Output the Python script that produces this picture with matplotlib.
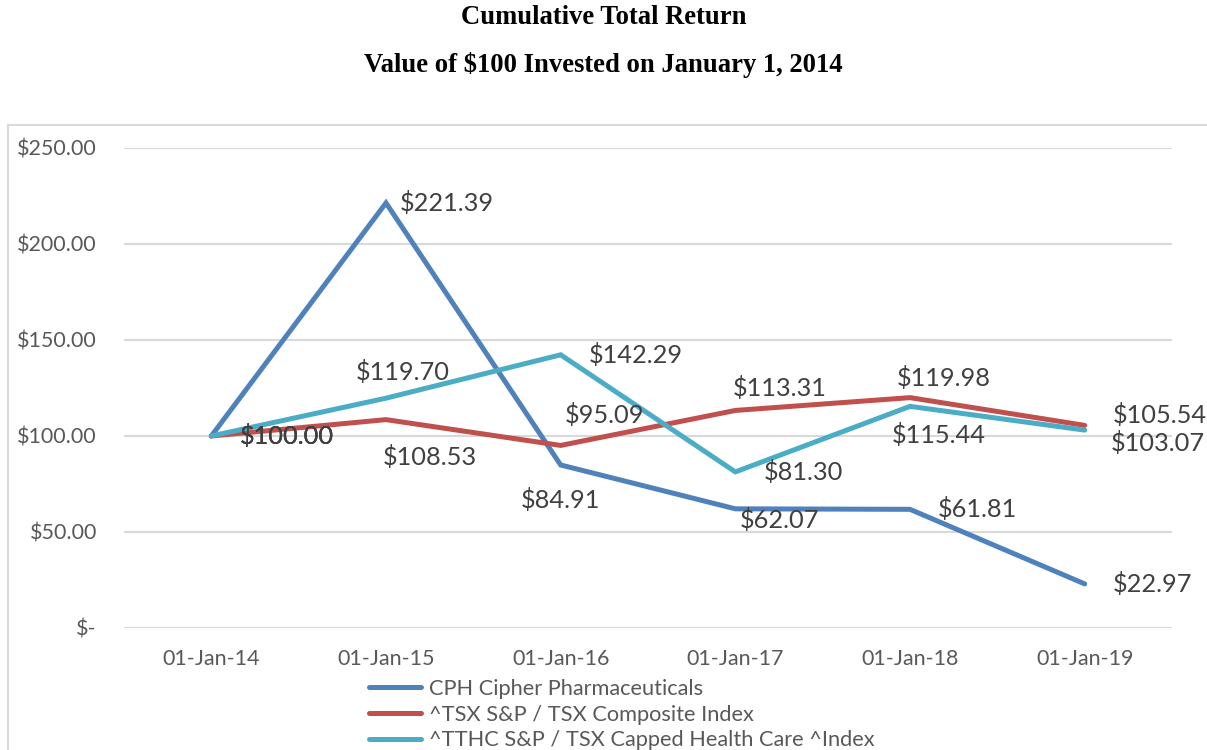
import matplotlib.pyplot as plt
from matplotlib.lines import Line2D

dates = ["01-Jan-14", "01-Jan-15", "01-Jan-16", "01-Jan-17", "01-Jan-18", "01-Jan-19"]
cph = [100.00, 221.39, 84.91, 62.07, 61.81, 22.97]
tsx = [100.00, 108.53, 95.09, 113.31, 119.98, 105.54]
tthc = [100.00, 119.70, 142.29, 81.30, 115.44, 103.07]
names = [
    "CPH Cipher Pharmaceuticals",
    "^TSX S&P / TSX Composite Index",
    "^TTHC S&P / TSX Capped Health Care ^Index",
]
yticks = [0, 50, 100, 150, 200, 250]

colors = ["#4F81BD", "#C0504D", "#4BACC6"]

# label offsets in pixels (dx, dy, ha) per point, tuned by eye
offsets = [
    [(28, 0, "left"), (14, 0, "left"), (0, -35, "center"), (44, -11, "center"), (28, 0, "left"), (28, 0, "left")],
    [(28, 0, "left"), (44, -37, "center"), (44, 30, "center"), (44, 22, "center"), (34, 20, "center"), (28, 10, "left")],
    [(28, 0, "left"), (17, 26, "center"), (28, 0, "left"), (28, 0, "left"), (29, -29, "center"), (26, -13, "left")],
]

plt.rcParams["font.family"] = ["Lato", "DejaVu Sans"]

fig = plt.figure(figsize=(12.07, 7.5), dpi=100)
ax = fig.add_axes([124 / 1207, 1 - 628 / 750, 1048 / 1207, 480 / 750])

x = list(range(len(dates)))
series = [cph, tsx, tthc]
for vals, col, name, offs in zip(series, colors, names, offsets):
    ax.plot(x, vals, color=col, lw=3.6, label=name, solid_capstyle="round", solid_joinstyle="miter", zorder=3)
    for xi, v, (dx, dy, ha) in zip(x, vals, offs):
        ax.annotate(f"${v:.2f}", (xi, v), xytext=(dx, dy), textcoords="offset pixels",
                    ha=ha, va="center", fontsize=18.3, color="#404040", zorder=4)

ax.set_xlim(-0.5, len(dates) - 0.5)
ax.set_ylim(0, 250)
ax.set_yticks(yticks)
ax.set_yticklabels(["$-" if t == 0 else f"${t:.2f}" for t in yticks])
ax.set_xticks(x)
ax.set_xticklabels(dates)
ax.tick_params(length=0, labelsize=15.5, labelcolor="#595959")
ax.tick_params(axis="y", pad=19.5)
ax.tick_params(axis="x", pad=15)
ax.grid(axis="y", color="#D9D9D9", lw=1.5)
ax.set_axisbelow(True)
for s in ax.spines.values():
    s.set_visible(False)

# chart border (cut off at right and bottom)
fig.add_artist(Line2D([8 / 1207, 8 / 1207], [0, 1 - 125 / 750], color="#D9D9D9", lw=1.5))
fig.add_artist(Line2D([8 / 1207, 1], [1 - 125 / 750, 1 - 125 / 750], color="#D9D9D9", lw=1.5))

fig.text(0.5, 1 - 17 / 750, "Cumulative Total Return", ha="center", va="center",
         fontsize=19.2, fontweight="bold", family="Liberation Serif")
fig.text(0.5, 1 - 65 / 750, "Value of $100 Invested on January 1, 2014", ha="center", va="center",
         fontsize=19.2, fontweight="bold", family="Liberation Serif")

fig.legend(loc="upper left", bbox_to_anchor=(369 / 1207, 1 - 679 / 750), frameon=False,
           fontsize=15.7, handlelength=2.4, handletextpad=0.37, labelspacing=0.26,
           borderpad=0, borderaxespad=0, labelcolor="#595959")

fig.savefig("out.png", dpi=100)
